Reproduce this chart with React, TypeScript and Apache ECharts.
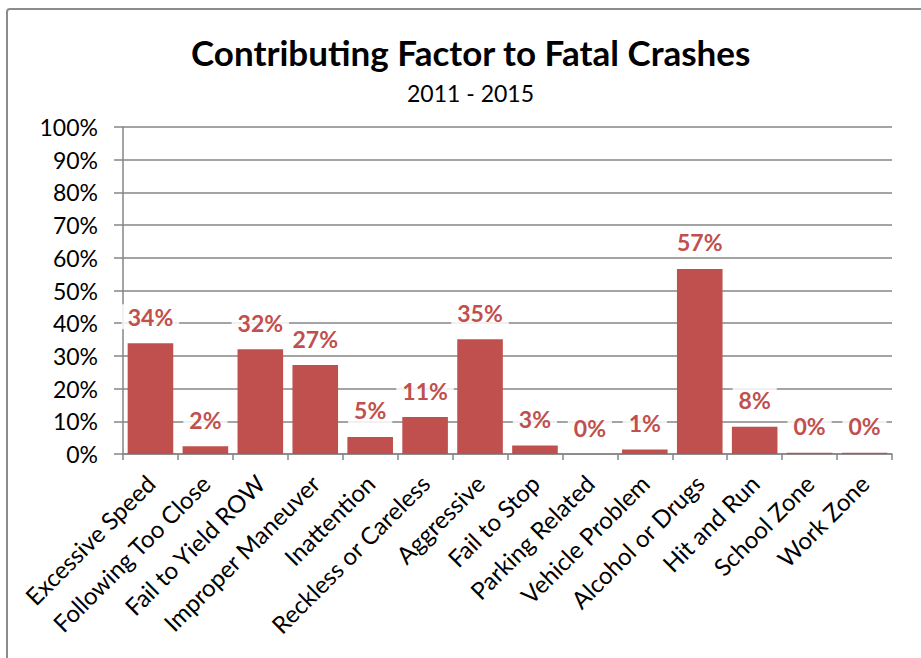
import React, { useEffect, useRef } from "react";
import * as echarts from "echarts";

const categories = [
  "Excessive Speed",
  "Following Too Close",
  "Fail to Yield ROW",
  "Improper Maneuver",
  "Inattention",
  "Reckless or Careless",
  "Aggressive",
  "Fail to Stop",
  "Parking Related",
  "Vehicle Problem",
  "Alcohol or Drugs",
  "Hit and Run",
  "School Zone",
  "Work Zone",
];
const values = [33.9, 2.4, 32.0, 27.2, 5.2, 11.3, 35.1, 2.6, 0, 1.4, 56.6, 8.3, 0.4, 0.4];
const titleText = "Contributing Factor to Fatal Crashes";
const subtitleText = "2011 - 2015";

const FONT = "Lato";
const GRID_COLOR = "#868686";
const BAR_COLOR = "#C0504D";

export default function App() {
  const ref = useRef<HTMLDivElement>(null);
  useEffect(() => {
    if (!ref.current) return;
    const chart = echarts.init(ref.current, undefined, { renderer: "svg" });
    chart.setOption({
      animation: false,
      backgroundColor: "#ffffff",
      textStyle: { fontFamily: FONT },
      title: [
        {
          text: titleText,
          left: 186,
          top: 29,
          textStyle: { fontFamily: FONT, fontWeight: "bold", fontSize: 35, color: "#000" },
        },
        {
          text: subtitleText,
          left: 402,
          top: 76,
          textStyle: { fontFamily: FONT, fontWeight: "normal", fontSize: 23, color: "#000" },
        },
      ],
      graphic: [
        {
          type: "rect",
          shape: { x: 7, y: 9, width: 1000, height: 1000, r: 3 },
          style: { fill: "none", stroke: "#8c8c8c", lineWidth: 2 },
          silent: true,
        },
      ],
      grid: { left: 123, right: 29, top: 127, bottom: 204 },
      xAxis: {
        type: "category",
        data: categories,
        axisLine: { show: true, lineStyle: { color: GRID_COLOR, width: 1.5 } },
        axisTick: { show: true, length: 6, lineStyle: { color: GRID_COLOR, width: 1.5 } },
        axisLabel: {
          rotate: 45,
          interval: 0,
          margin: 25,
          fontFamily: FONT,
          fontSize: 24,
          color: "#000",
        },
      },
      yAxis: {
        type: "value",
        min: 0,
        max: 100,
        interval: 10,
        axisLine: { show: true, lineStyle: { color: GRID_COLOR, width: 1.5 } },
        axisTick: { show: true, length: 9, lineStyle: { color: GRID_COLOR, width: 1.5 } },
        splitLine: { show: true, lineStyle: { color: GRID_COLOR, width: 1.5 } },
        axisLabel: {
          formatter: "{value}%",
          margin: 25,
          fontFamily: FONT,
          fontSize: 23,
          color: "#000",
        },
      },
      series: [
        {
          type: "bar",
          data: values,
          barCategoryGap: "17%",
          itemStyle: { color: BAR_COLOR },
          label: {
            show: true,
            position: "top",
            distance: 14,
            formatter: (p: any) => Math.round(p.value) + "%",
            fontFamily: FONT,
            fontWeight: "bold",
            fontSize: 23,
            color: BAR_COLOR,
            backgroundColor: "rgba(255,255,255,0.85)",
            padding: [1, 6],
          },
        },
      ],
    });
    return () => chart.dispose();
  }, []);
  return (
    <div
      ref={ref}
      style={{ position: "fixed", left: 0, top: 0, width: 921, height: 658 }}
    />
  );
}
